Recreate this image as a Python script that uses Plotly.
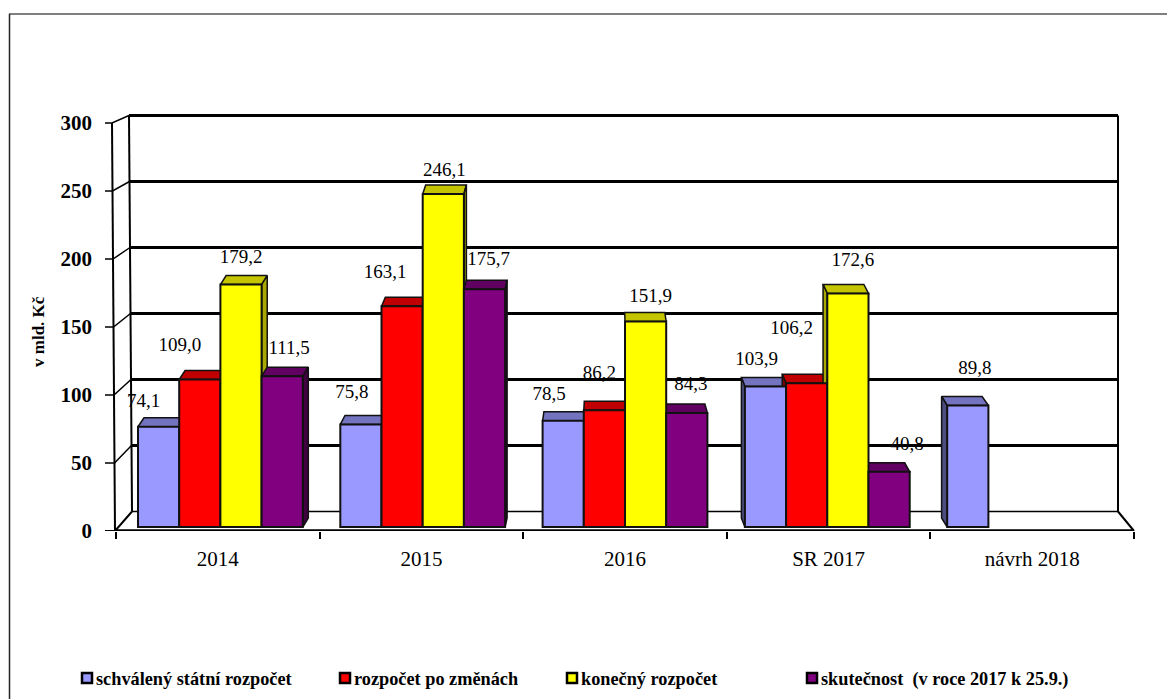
import numpy as np
import plotly.graph_objects as go

# ---------- data ----------
categories = ["2014", "2015", "2016", "SR 2017", "návrh 2018"]
schvaleny = [74.1, 75.8, 78.5, 103.9, 89.8]
po_zmenach = [109.0, 163.1, 86.2, 106.2, None]
konecny = [179.2, 246.1, 151.9, 172.6, None]
skutecnost = [111.5, 175.7, 84.3, 40.8, None]
series_names = ["schválený státní rozpočet", "rozpočet po změnách", "konečný rozpočet",
                "skutečnost  (v roce 2017 k 25.9.)"]
y_ticks = [0, 50, 100, 150, 200, 250, 300]

# ---------- style ----------
series = [schvaleny, po_zmenach, konecny, skutecnost]
front_col = ["#9999FF", "#FF0000", "#FFFF00", "#800080"]
top_col = ["#7373BF", "#C00000", "#C4C400", "#600060"]
side_col = ["#4C4C80", "#800000", "#A8A800", "#400040"]
FONT = "Liberation Serif"

W, H = 1167, 699
L, R, T, B = 116, 1134, 123, 531        # front plane of the chart, in page pixels
PL, PR, PT = 100, 1145, 100             # plot area, a little larger so the 3D frame fits
PX_X = (R - L) / 5.0                    # pixels per category
PX_Y = (B - T) / 300.0                  # pixels per value unit


# mapping of the oblique 3D view to the axes' data space
def u(px):
    return (px - L) / PX_X


def v(py):
    return (B - py) / PX_Y


BAR_BASE, BAR_SCALE = 527.0, 1.353      # plane of the bar fronts
GROUP0, GROUP_STEP, BAR_W = 138.0, 202.3, 41.2
DEPTH = 9.0
WALL_L0, WALL_R0 = 132.0, 1118.0
WALL_B, WALL_SCALE = 511.5, 1.32


def shift(px):
    return float(np.interp(px, [138, 303, 421, 505, 625, 745, 911, 989],
                           [6, 5.5, 3, 2, -0.3, -3.5, -5, -6.3]))


fig = go.Figure()


def seg(xs, ys, width=1.5, color="black"):
    fig.add_trace(go.Scatter(x=[u(a) for a in xs], y=[v(b) for b in ys], mode="lines",
                             line=dict(color=color, width=width), cliponaxis=False,
                             showlegend=False, hoverinfo="skip"))


def poly(xs, ys, fill):
    fig.add_trace(go.Scatter(x=[u(a) for a in xs] + [u(xs[0])], y=[v(b) for b in ys] + [v(ys[0])],
                             mode="lines", fill="toself", fillcolor=fill,
                             line=dict(color="#111111", width=1.5), cliponaxis=False,
                             showlegend=False, hoverinfo="skip"))


# back wall gridlines, floor and walls
for t in y_ticks:
    gy = WALL_B - WALL_SCALE * t
    wx = WALL_L0 - 3.0 * t / 300
    seg([wx, WALL_R0], [gy, gy], width=1.5 if t == 0 else 3)
    fy = B - PX_Y * t
    fx = 115 - 3.0 * t / 300
    seg([105, fx, wx], [fy, fy, gy], width=1.5 if t else 2)
seg([115, 112], [531, 123], width=2)
seg([WALL_L0, WALL_L0 - 3], [WALL_B, WALL_B - WALL_SCALE * 300], width=2)
seg([WALL_R0, WALL_R0], [WALL_B, WALL_B - WALL_SCALE * 300], width=2)
seg([WALL_R0, R], [WALL_B, B], width=2)
seg([115, R], [B - 0.5, B - 0.5], width=2.5)

# depth faces of the bars, computed from the values
for s, vals in enumerate(series):
    for c, val in enumerate(vals):
        if val is None:
            continue
        x0 = GROUP0 + GROUP_STEP * c + BAR_W * s
        x1 = x0 + BAR_W
        top = BAR_BASE - BAR_SCALE * val
        s0, s1 = shift(x0), shift(x1)
        poly([x0, x1, x1 + s1, x0 + s0], [top, top, top - DEPTH, top - DEPTH], top_col[s])
        if s1 > 0.5:
            poly([x1, x1 + s1, x1 + s1, x1], [top, top - DEPTH, BAR_BASE - DEPTH, BAR_BASE], side_col[s])
        if s0 < -0.5:
            poly([x0, x0 + s0, x0 + s0, x0], [top, top - DEPTH, BAR_BASE - DEPTH, BAR_BASE], side_col[s])

# front faces of the bars, on an overlaying pair of axes
for s, vals in enumerate(series):
    cs = [c for c, val in enumerate(vals) if val is not None]
    fig.add_trace(go.Bar(
        x=[u(GROUP0 + GROUP_STEP * c + BAR_W * (s + 0.5)) for c in cs],
        y=[BAR_SCALE * vals[c] / PX_Y for c in cs],
        base=[v(BAR_BASE)] * len(cs),
        width=BAR_W / PX_X,
        marker=dict(color=front_col[s], line=dict(color="#111111", width=2)),
        name=series_names[s], showlegend=False, xaxis="x2", yaxis="y2",
        hovertemplate="%{customdata}<extra></extra>", customdata=[vals[c] for c in cs]))

# value labels: (dx, dy) from the centre of the bar's top edge to the label's centre
label_off = [
    [(-15, -25), (-9, -32), (-14, -27), (-9, -27), (7, -37)],
    [(-20, -34), (-17, -34), (-5, -37), (-15, -55)],
    [(0, -27), (1, -24), (5, -25), (5, -33)],
    [(7, -28), (4, -30), (4, -29), (18, -28)],
]
lx, ly, lt = [], [], []
for s, vals in enumerate(series):
    for c, val in enumerate(vals):
        if val is None:
            continue
        dx, dy = label_off[s][c]
        lx.append(u(GROUP0 + GROUP_STEP * c + BAR_W * (s + 0.5) + dx))
        ly.append(v(BAR_BASE - BAR_SCALE * val + dy + 1))
        lt.append(f"{val:.1f}".replace(".", ","))
fig.add_trace(go.Scatter(x=lx, y=ly, text=lt, mode="text", cliponaxis=False,
                         textposition="middle center", showlegend=False, hoverinfo="skip",
                         textfont=dict(family=FONT, size=19, color="black"),
                         xaxis="x2", yaxis="y2"))

# legend drawn as keys and text
legend_x = [82, 340, 567, 807]
legend_y = 679
PW, PH = PR - PL, B - PT
shapes = []
annots = []


def fx_paper(px):
    return (px - PL) / PW


def fy_paper(py):
    return (B - py) / PH


for px, name, col in zip(legend_x, series_names, front_col):
    shapes.append(dict(type="rect", xref="paper", yref="paper",
                       x0=fx_paper(px), x1=fx_paper(px + 10),
                       y0=fy_paper(legend_y + 4), y1=fy_paper(legend_y - 6),
                       fillcolor=col, line=dict(color="black", width=2.5)))
    annots.append(dict(xref="paper", yref="paper", x=fx_paper(px + 13), y=fy_paper(legend_y),
                       text=f"<b>{name}</b>", showarrow=False, xanchor="left", yanchor="middle",
                       xshift=-1, font=dict(family=FONT, size=18.3, color="black")))

# outer frame of the chart
shapes.append(dict(type="line", xref="paper", yref="paper", x0=fx_paper(9), x1=fx_paper(W),
                   y0=fy_paper(14), y1=fy_paper(14), line=dict(color="#555555", width=1.5)))
shapes.append(dict(type="line", xref="paper", yref="paper", x0=fx_paper(9.5), x1=fx_paper(9.5),
                   y0=fy_paper(14), y1=fy_paper(H), line=dict(color="#222222", width=1.5)))

annots.append(dict(xref="paper", yref="paper", x=fx_paper(38), y=fy_paper(332), textangle=-90,
                   text="<b>v mld. Kč</b>", showarrow=False, xanchor="center", yanchor="middle",
                   font=dict(family=FONT, size=17, color="black")))

axis_range_x = [u(PL), u(PR)]
axis_range_y = [0, v(PT)]
fig.update_layout(
    width=W, height=H, margin=dict(l=PL, r=W - PR, t=PT, b=H - B, pad=0),
    paper_bgcolor="white", plot_bgcolor="rgba(0,0,0,0)", showlegend=False,
    barmode="overlay", shapes=shapes, annotations=annots,
    font=dict(family=FONT, color="black"),
    xaxis=dict(range=axis_range_x, tickmode="array", tickvals=[i + 0.5 for i in range(5)],
               ticktext=categories, ticks="", showgrid=False, zeroline=False, showline=False,
               tickfont=dict(family=FONT, size=21), ticklabelstandoff=13,
               minor=dict(tickmode="array", tickvals=list(range(6)), ticks="outside",
                          ticklen=7, tickcolor="black", tickwidth=1.5, showgrid=False)),
    yaxis=dict(range=axis_range_y, tickmode="array", tickvals=y_ticks, ticks="", showgrid=False,
               zeroline=False, showline=False, tickfont=dict(family=FONT, size=21, weight="bold"),
               ticklabelstandoff=7),
    xaxis2=dict(range=axis_range_x, overlaying="x", visible=False),
    yaxis2=dict(range=axis_range_y, overlaying="y", visible=False),
)

fig.write_html("out.html", config={"displayModeBar": False},
               post_script="document.body.style.margin='0';document.body.style.overflow='hidden';")
